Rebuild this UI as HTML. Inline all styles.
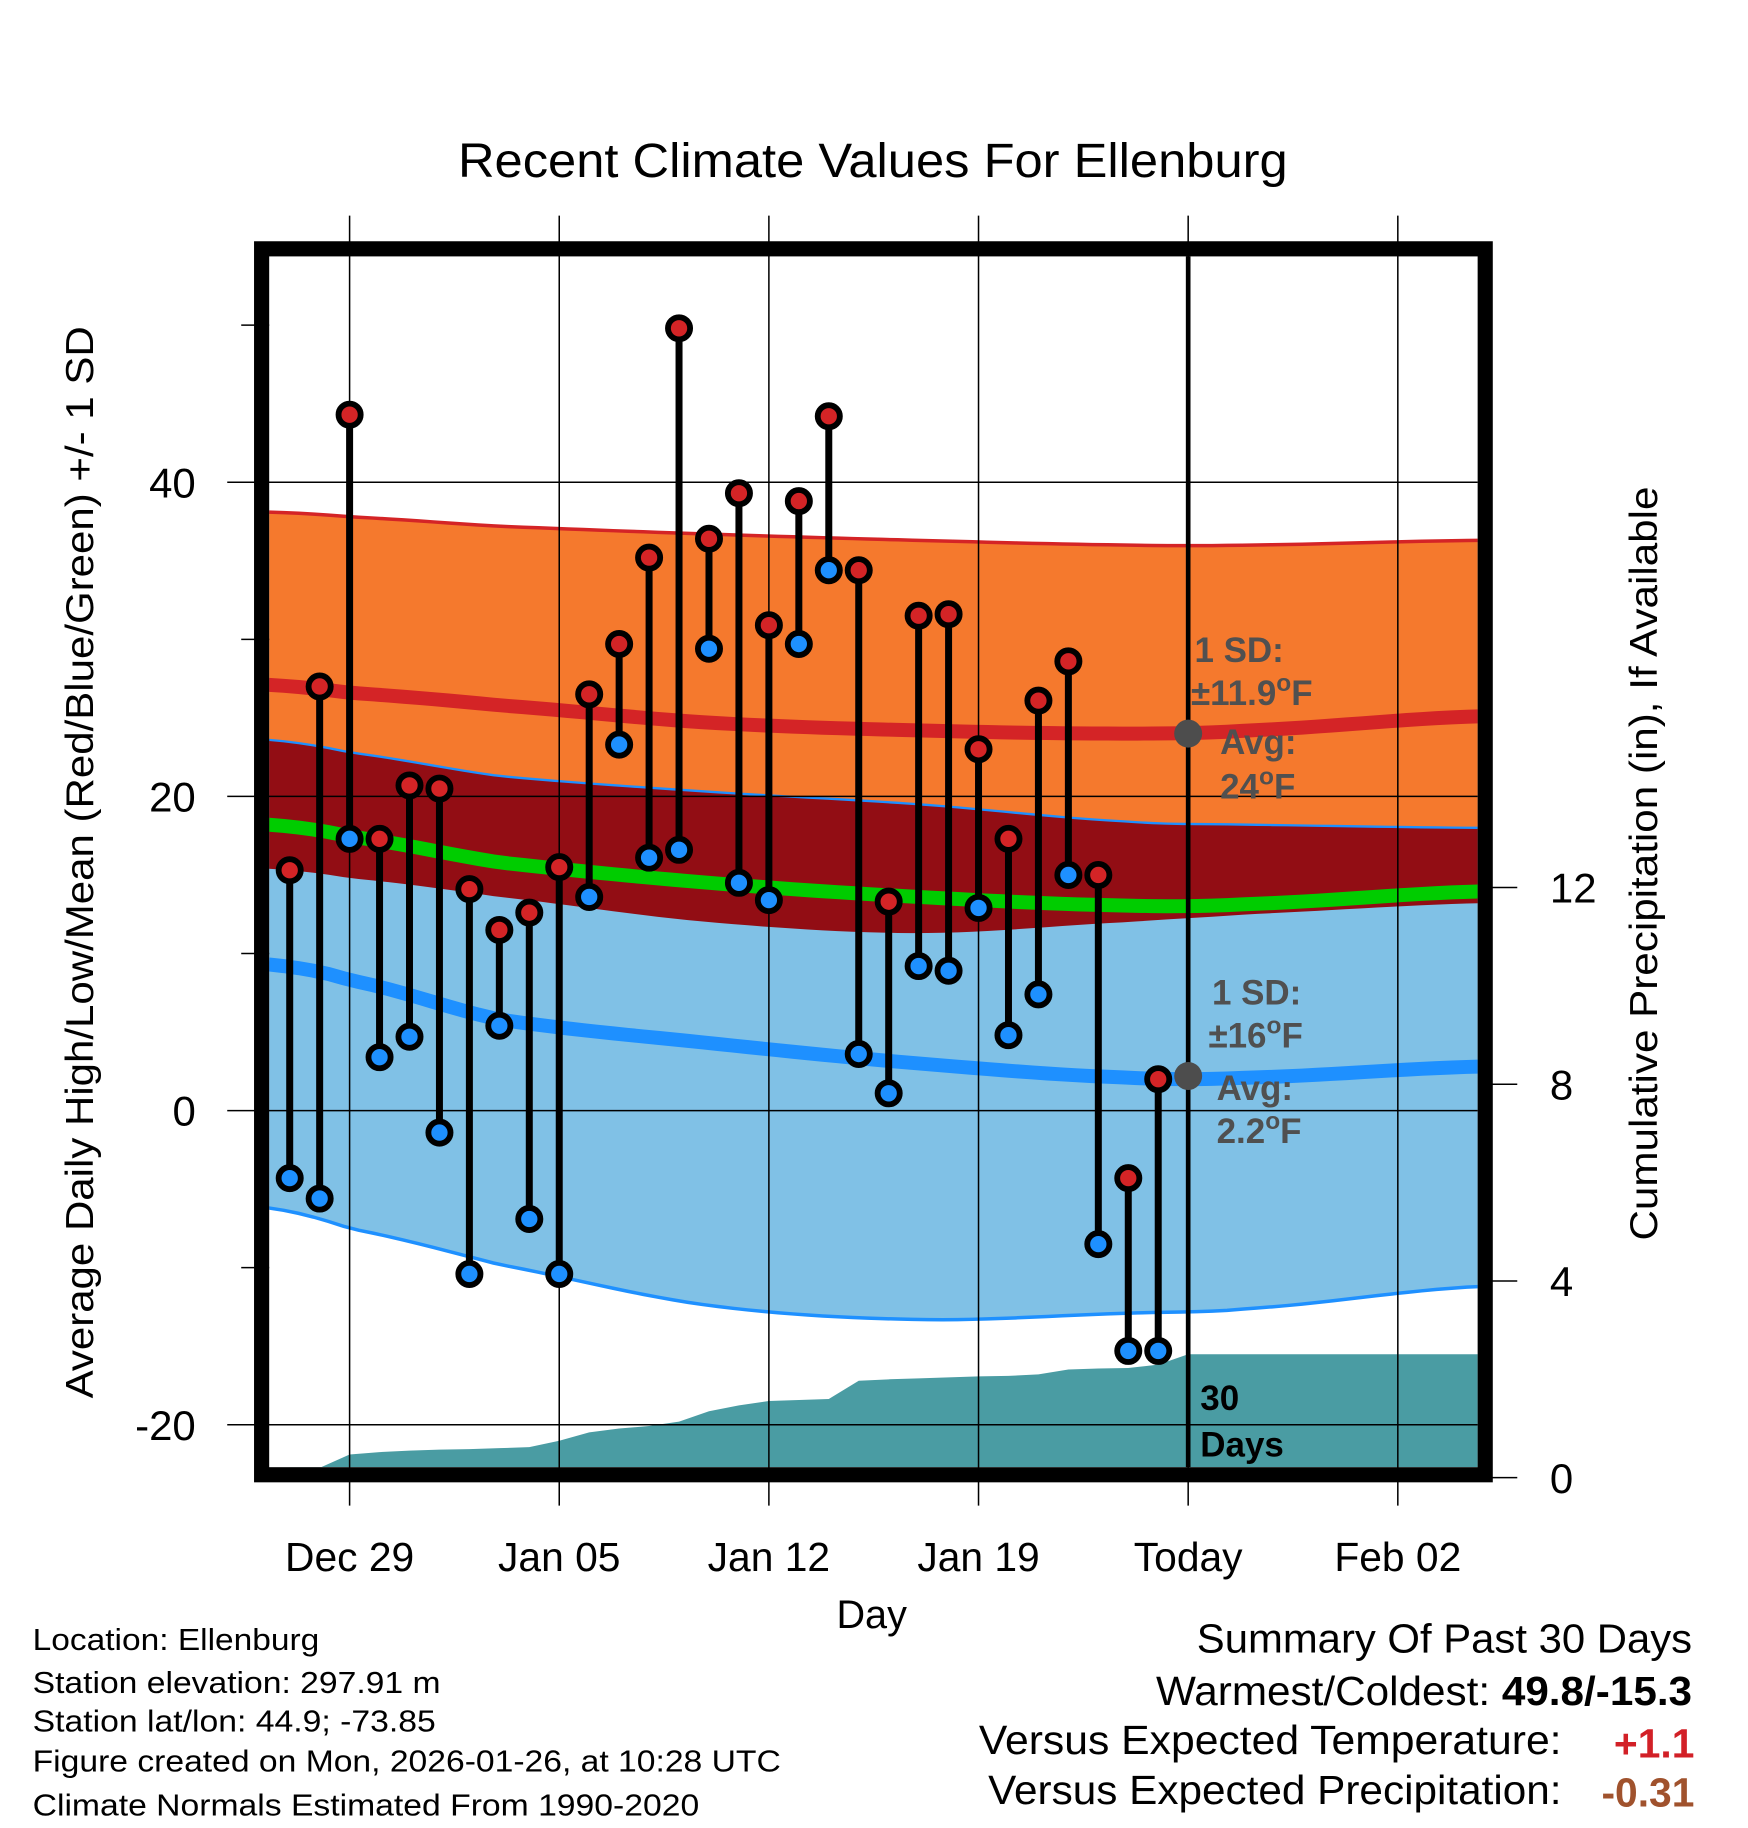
<!DOCTYPE html>
<html><head><meta charset="utf-8"><style>
html,body{margin:0;padding:0;background:#fff}
svg{display:block}
text{font-family:"Liberation Sans",Arial,sans-serif}
</style></head><body>
<svg id="chart" width="1748" height="1828" viewBox="0 0 1500 1568.6" xmlns="http://www.w3.org/2000/svg">
<g id="bands"></g>
<g id="precip"></g>
<g id="grid"></g>
<g id="bars"></g>
<g id="annot"></g>
<g id="axes"></g>
<text x="749" y="152" font-size="41" text-anchor="middle" textLength="712" lengthAdjust="spacingAndGlyphs">Recent Climate Values For Ellenburg</text>
<text x="748" y="1397" font-size="34" text-anchor="middle">Day</text>
<text transform="translate(80,740) rotate(-90)" font-size="33" text-anchor="middle" textLength="920" lengthAdjust="spacingAndGlyphs">Average Daily High/Low/Mean (Red/Blue/Green) +/- 1 SD</text>
<text transform="translate(1422,741) rotate(-90)" font-size="33" text-anchor="middle" textLength="647" lengthAdjust="spacingAndGlyphs">Cumulative Precipitation (in), If Available</text>
<g font-size="26">
<text x="28" y="1416" textLength="246" lengthAdjust="spacingAndGlyphs">Location: Ellenburg</text>
<text x="28" y="1453" textLength="350" lengthAdjust="spacingAndGlyphs">Station elevation: 297.91 m</text>
<text x="28" y="1486" textLength="346" lengthAdjust="spacingAndGlyphs">Station lat/lon: 44.9; -73.85</text>
<text x="28" y="1520" textLength="642" lengthAdjust="spacingAndGlyphs">Figure created on Mon, 2026-01-26, at 10:28 UTC</text>
<text x="28" y="1558" textLength="572" lengthAdjust="spacingAndGlyphs">Climate Normals Estimated From 1990-2020</text>
</g>
<g font-size="35">
<text x="1027" y="1418" textLength="425" lengthAdjust="spacingAndGlyphs">Summary Of Past 30 Days</text>
<text x="992" y="1463" textLength="460" lengthAdjust="spacingAndGlyphs">Warmest/Coldest: <tspan font-weight="bold">49.8/-15.3</tspan></text>
<text x="840" y="1505" textLength="500" lengthAdjust="spacingAndGlyphs">Versus Expected Temperature:</text>
<text x="1454" y="1508" text-anchor="end" font-weight="bold" fill="#d22027">+1.1</text>
<text x="848" y="1548" textLength="492" lengthAdjust="spacingAndGlyphs">Versus Expected Precipitation:</text>
<text x="1454" y="1550" text-anchor="end" font-weight="bold" fill="#a0522d">-0.31</text>
</g>
</svg>
<script>
// ---- data ----
const barDays = [-2,-1,0,1,2,3,4,5,6,7,8,9,10,11,12,13,14,15,16,17,18,19,20,21,22,23,24,25,26,27];
const highs = [15.3,27,44.3,17.3,20.7,20.5,14.1,11.5,12.6,15.5,26.5,29.7,35.2,49.8,36.4,39.3,30.9,38.8,44.2,34.4,13.3,31.5,31.6,23.0,17.3,26.1,28.6,15.0,-4.3,2.0];
const lows = [-4.3,-5.6,17.3,3.4,4.7,-1.4,-10.4,5.4,-6.9,-10.4,13.6,23.3,16.1,16.6,29.4,14.5,13.4,29.7,34.4,3.6,1.1,9.2,8.9,12.9,4.8,7.4,15.0,-8.5,-15.3,-15.3];
const normDays = [-2.7,0,5,12,19,26,30,37.7];
const normHigh = [27.1,26.6,25.8,24.7,24.2,24.0,24.2,25.1];
const hiUpper = [38.1,37.8,37.2,36.7,36.3,36.0,36.0,36.3];
const hiLower = [15.4,14.8,13.6,12.0,11.3,12.0,12.5,13.2];
const normLow = [9.3,8.3,5.8,4.3,3.0,2.1,2.1,2.8];
const loUpper = [23.6,22.8,21.3,20.3,19.5,18.4,18.2,18.0];
const loLower = [-6.2,-7.5,-9.8,-12.4,-13.3,-12.9,-12.6,-11.2];
const precipDays = [-2,-1,0,1,2,3,4,5,6,7,8,9,10,11,12,13,14,15,16,17,18,19,20,21,22,23,24,25,26,27,28,37.7];
const precipCum = [0,0.2,0.47,0.52,0.55,0.57,0.58,0.6,0.62,0.75,0.92,1.0,1.05,1.14,1.35,1.47,1.56,1.58,1.6,1.97,2.0,2.02,2.04,2.06,2.07,2.1,2.2,2.22,2.23,2.3,2.51,2.51];
const xTickDays = [0,7,14,21,28,35];
const xTickLabels = ["Dec 29","Jan 05","Jan 12","Jan 19","Today","Feb 02"];
const yTicks = [40,20,0,-20];
const yMinor = [50,30,10,-10];
const y2Ticks = [0,4,8,12];
// ---- scales ----
const L=231,R=1268,T=220,B=1259;
const x = d => 300 + 25.7*d;
const y = v => 953 - 13.48*v;
const yp = p => 1268 - 42.2*p;
const NS="http://www.w3.org/2000/svg";
function mk(tag, attrs, parent){const e=document.createElementNS(NS,tag);for(const k in attrs)e.setAttribute(k,attrs[k]);parent.appendChild(e);return e;}
const bands=document.getElementById('bands'),grid=document.getElementById('grid'),bars=document.getElementById('bars'),annot=document.getElementById('annot'),axes=document.getElementById('axes'),prec=document.getElementById('precip');
const svg=document.getElementById('chart');
const defs=mk('defs',{},svg);const cp=mk('clipPath',{id:'pc'},defs);mk('rect',{x:L,y:T,width:R-L,height:B-T},cp);
bands.setAttribute('clip-path','url(#pc)');prec.setAttribute('clip-path','url(#pc)');
function interp(arr,d){let i=0;while(i<normDays.length-2&&d>normDays[i+1])i++;
const t=Math.min(1,(d-normDays[i])/(normDays[i+1]-normDays[i]));
const p0=arr[Math.max(i-1,0)],p1=arr[i],p2=arr[i+1],p3=arr[Math.min(i+2,arr.length-1)];
return 0.5*((2*p1)+(-p0+p2)*t+(2*p0-5*p1+4*p2-p3)*t*t+(-p0+3*p1-3*p2+p3)*t*t*t);}
const samp=[];const lastD=normDays[normDays.length-1];
for(let d=normDays[0];d<lastD;d+=0.5)samp.push(d);
samp.push(lastD);samp.push(lastD+0.5);
const pts=(arr)=>samp.map(d=>x(d)+','+y(interp(arr,Math.min(d,lastD))));
const mean=normHigh.map((v,i)=>(v+normLow[i])/2);
function poly(a,b,fill,name){const p=mk('polygon',{points:pts(a).concat(pts(b).reverse()).join(' '),fill:fill},bands);

}
function line(a,stroke,w,name){const p=mk('polyline',{points:pts(a).join(' '),fill:'none',stroke:stroke,'stroke-width':w},bands);

}
poly(hiUpper,hiLower,'#f5792d','high-sd-band');
poly(loUpper,loLower,'#80c1e6','low-sd-band');
poly(loUpper,hiLower,'#920d14','overlap-band');
line(hiUpper,'#d42426',3,'high-sd-upper');
line(loUpper,'#1e90ff',2,'low-sd-upper');
line(loLower,'#1e90ff',3,'low-sd-lower');
line(normHigh,'#d42426',12,'normal-high-line');
line(normLow,'#1e90ff',12,'normal-low-line');
line(mean,'#00cc00',12,'normal-mean-line');
// precip
let pp=precipDays.map((d,i)=>x(d)+','+yp(precipCum[i]));
pp.push(x(precipDays[precipDays.length-1])+','+B, x(precipDays[0])+','+B);
const pa=mk('polygon',{points:pp.join(' '),fill:'#4a9ca3'},prec);


// grid
xTickDays.forEach(d=>{const l=mk('line',{x1:x(d),x2:x(d),y1:185,y2:1292,stroke:'#000','stroke-width':1.3},grid);

});
yTicks.forEach(v=>{const l=mk('line',{x1:195,x2:R,y1:y(v),y2:y(v),stroke:'#000','stroke-width':1.3},grid);


const t=mk('text',{x:168,y:y(v)+13,'font-size':36,'text-anchor':'end'},axes);t.textContent=v;

});
yMinor.forEach(v=>{const l=mk('line',{x1:207,x2:L,y1:y(v),y2:y(v),stroke:'#000','stroke-width':1.3},grid);

});
y2Ticks.forEach(p=>{const l=mk('line',{x1:1275,x2:1302,y1:yp(p),y2:yp(p),stroke:'#000','stroke-width':1.3},axes);


const t=mk('text',{x:1330,y:yp(p)+13,'font-size':36},axes);t.textContent=p;

});
xTickDays.forEach((d,i)=>{const t=mk('text',{x:x(d),y:1348,'font-size':35,'text-anchor':'middle'},axes);t.textContent=xTickLabels[i];

});
// today line
const tl=mk('line',{x1:x(28),x2:x(28),y1:T,y2:B,stroke:'#000','stroke-width':4},annot);


[[y(24),'avg-high-marker'],[y(2.2),'avg-low-marker']].forEach(a=>{const c=mk('circle',{cx:x(28),cy:a[0],r:12,fill:'#4d4d4d'},annot);

});
function atext(tx,ty,s,name,fill){const t=mk('text',{x:tx,y:ty,'font-size':30,'font-weight':'bold',fill:fill||'#505050'},annot);t.innerHTML=s;

}
atext(1025,568,'1 SD:','high-sd-label');
atext(1022,605,'±11.9<tspan dy="-12" font-size="21">o</tspan><tspan dy="12">F</tspan>','high-sd-value');
atext(1047,647,'Avg:','high-avg-label');
atext(1047,685,'24<tspan dy="-12" font-size="21">o</tspan><tspan dy="12">F</tspan>','high-avg-value');
atext(1040,862,'1 SD:','low-sd-label');
atext(1037,899,'±16<tspan dy="-12" font-size="21">o</tspan><tspan dy="12">F</tspan>','low-sd-value');
atext(1044,944,'Avg:','low-avg-label');
atext(1044,981,'2.2<tspan dy="-12" font-size="21">o</tspan><tspan dy="12">F</tspan>','low-avg-value');
atext(1030,1210,'30','days-label','#000');
atext(1030,1250,'Days','days-label-2','#000');
// bars
barDays.forEach((d,i)=>{const g=mk('g',{},bars);


mk('line',{x1:x(d),x2:x(d),y1:y(highs[i]),y2:y(lows[i]),stroke:'#000','stroke-width':6},g);
const h=mk('circle',{cx:x(d),cy:y(highs[i]),r:9.5,fill:'#d42426',stroke:'#000','stroke-width':5},g);


const lo=mk('circle',{cx:x(d),cy:y(lows[i]),r:9.5,fill:'#1e90ff',stroke:'#000','stroke-width':5},g);

});
// frame
const fr=mk('rect',{x:224.5,y:213.5,width:1050,height:1052,fill:'none',stroke:'#000','stroke-width':13},axes);


</script>
</body></html>
